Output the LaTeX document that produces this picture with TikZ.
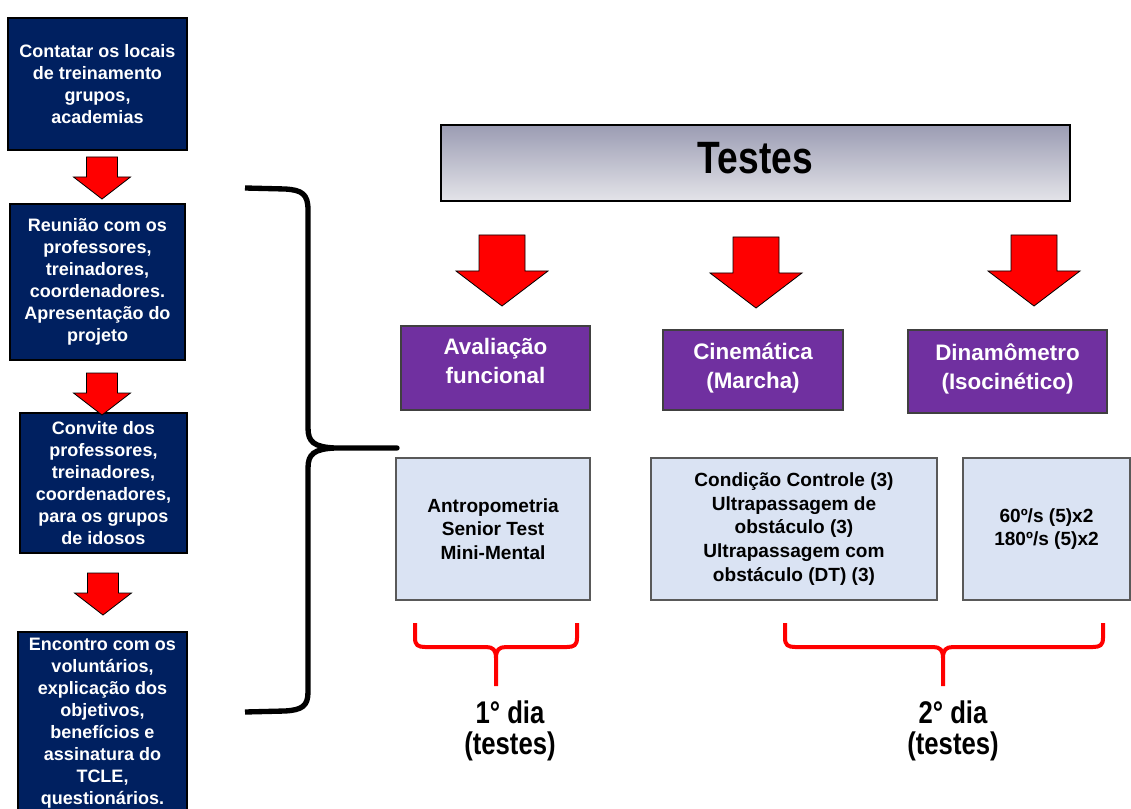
\documentclass[tikz,border=0pt]{standalone}
\usepackage{fontspec}
\setmainfont{Liberation Sans}
\newfontfamily\narrowfont[FakeStretch=0.82]{Liberation Sans}
\definecolor{stepblue}{HTML}{002060}
\definecolor{testviolet}{HTML}{7030A0}
\definecolor{listblue}{HTML}{DAE3F3}

\begin{document}
\begin{tikzpicture}[x=0.75pt, y=-0.75pt,
    stepbox/.style={draw=black, line width=1.5pt, fill=stepblue, text=white, align=center,
                    font=\fontsize{13.5}{16.5}\selectfont\bfseries, inner sep=0pt},
    testbox/.style={draw=black!75, line width=0.8pt, fill=testviolet, text=white, align=center,
                    font=\fontsize{16.8}{21.75}\selectfont\bfseries, inner sep=0pt},
    listbox/.style={draw=black!65, line width=0.8pt, fill=listblue, align=center,
                    font=\fontsize{14.3}{17.8}\selectfont\bfseries, inner sep=0pt, minimum height=106.5pt},
    downarrow/.style={fill=red, draw=black, line width=0.6pt},
    daybrace/.style={draw=red, line width=3pt},
    daylabel/.style={align=center, font=\narrowfont\fontsize{23.5}{23.25}\selectfont\bfseries}
   ]
\useasboundingbox (0,0) rectangle (1131,809);

% left column: steps
\node[stepbox, minimum width=134.25pt, minimum height=99pt] (contatar) at (97.5,84)
    {Contatar os locais\\de treinamento\\grupos,\\academias};
\node[stepbox, minimum width=131.25pt, minimum height=117pt] (reuniao) at (97.5,282)
    {Reunião com os\\professores,\\treinadores,\\coordenadores.\\Apresentação do\\projeto};
\node[stepbox, minimum width=125.25pt, minimum height=105pt] (convite) at (103.5,483)
    {Convite dos\\professores,\\treinadores,\\coordenadores,\\para os grupos\\de idosos};
\node[stepbox, minimum width=126.75pt, minimum height=136.5pt] (encontro) at (102.5,723)
    {Encontro com os\\voluntários,\\explicação dos\\objetivos,\\benefícios e\\assinatura do\\TCLE,\\questionários.};

\foreach \cx/\top in {102/157, 102/373, 103/573}
{
    \draw[downarrow] (\cx-15.5,\top) -- (\cx+15.5,\top) -- (\cx+15.5,\top+20) -- (\cx+28.5,\top+20)
        -- (\cx,\top+42) -- (\cx-28.5,\top+20) -- (\cx-15.5,\top+20) -- cycle;
}

% big brace
\draw[line width=4pt, line join=round] (245,188) -- (285,189) .. controls (302,190) and (308,194) .. (308,210)
    -- (308,428) .. controls (308,442) and (314,447) .. (335,448) -- (397,448) -- (335,448)
    .. controls (314,449) and (308,454) .. (308,468) -- (308,692)
    .. controls (308,706) and (302,710) .. (285,711) -- (245,712);

% tests
\node[draw=black, line width=1.2pt, top color={rgb,255:red,155;green,156;blue,179},
      bottom color={rgb,255:red,228;green,228;blue,233}, minimum width=471.75pt, minimum height=57pt,
      text depth=7.5pt, font=\narrowfont\fontsize{34}{34}\selectfont\bfseries] (testes) at (755.5,163) {Testes};

\foreach \cx/\top in {502/235, 756/237, 1034/235}
{
    \draw[downarrow] (\cx-23,\top) -- (\cx+23,\top) -- (\cx+23,\top+36) -- (\cx+46,\top+36)
        -- (\cx,\top+71) -- (\cx-46,\top+36) -- (\cx-23,\top+36) -- cycle;
}

\node[testbox, minimum width=141.75pt, minimum height=63pt, text depth=10.5pt] (funcional) at (495.5,368) {Avaliação\\funcional};
\node[testbox, minimum width=135pt, minimum height=60pt, text depth=6.5pt] (cinematica) at (753,370) {Cinemática\\(Marcha)};
\node[testbox, minimum width=149.25pt, minimum height=62.25pt, text depth=8pt] (dinamometro) at (1007.5,371.5) {Dinamômetro\\(Isocinético)};

\node[listbox, minimum width=145.5pt] (antropometria) at (493,529) {Antropometria\\Senior Test\\Mini-Mental};
\node[listbox, minimum width=214.5pt] (condicao) at (794,529)
    {Condição Controle (3)\\Ultrapassagem de\\obstáculo (3)\\Ultrapassagem com\\obstáculo (DT) (3)};
\node[listbox, minimum width=125.25pt] (isocinetico) at (1046.5,529) {60º/s (5)x2\\180º/s (5)x2};

% days
\foreach \a/\m/\b in {415/496/577, 785/943/1103}
{
    \draw[daybrace] (\a,623) -- (\a,638) .. controls (\a,645) and (\a+3,647) .. (\a+10,647) -- (\m-10,647)
        .. controls (\m-3,647) and (\m,650) .. (\m,658) .. controls (\m,650) and (\m+3,647) .. (\m+10,647)
        -- (\b-10,647) .. controls (\b-3,647) and (\b,645) .. (\b,638) -- (\b,623)
        (\m,655) -- (\m,686);
}
\node[daylabel] (dia1) at (510,731) {1° dia\\(testes)};
\node[daylabel] (dia2) at (953,731) {2° dia\\(testes)};

\end{tikzpicture}
\end{document}
